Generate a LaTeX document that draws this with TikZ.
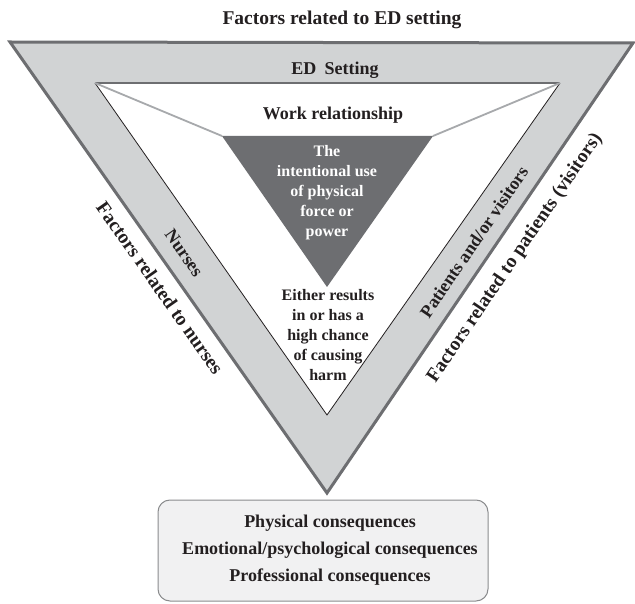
\documentclass[tikz,border=0pt]{standalone}
\usepackage{fontspec}
\setmainfont{Liberation Serif}
\definecolor{band}{HTML}{D1D3D4}
\definecolor{edge}{HTML}{6D6E71}
\definecolor{core}{HTML}{6D6E71}
\definecolor{ink}{HTML}{231F20}
\definecolor{link}{HTML}{A7A9AC}
\definecolor{boxfill}{HTML}{F1F1F2}
\begin{document}
\begin{tikzpicture}[x=1pt,y=-1pt,
  lab/.style={font=\fontsize{18}{20}\selectfont\bfseries, text=ink, inner sep=0pt},
  biglab/.style={font=\fontsize{19.5}{22}\selectfont\bfseries, text=ink, inner sep=0pt},
  smalllab/.style={font=\fontsize{16}{20}\selectfont\bfseries, align=center, inner sep=0pt},
  conbox/.style={draw=edge!80, line width=1pt, fill=boxfill, rounded corners=12pt, minimum width=330pt, minimum height=101pt, inner sep=0pt}
]
\useasboundingbox (0,0) rectangle (635,604);
% geometry
\coordinate (OL) at (10,42);
\coordinate (OR) at (633,43);
\coordinate (OB) at (327,493);
\coordinate (IL) at (95,83);
\coordinate (IR) at (560,83);
\coordinate (IB) at (327,415);
\coordinate (CL) at (222,136);
\coordinate (CR) at (433,136);
\coordinate (CB) at (327,287);
% outer band
\fill[band] (OL) -- (OR) -- (OB) -- cycle;
\draw[edge, line width=3pt, line join=miter] (OL) -- (OR) -- (OB) -- cycle;
% inner white triangle
\fill[white] (IL) -- (IR) -- (IB) -- cycle;
\draw[ink, line width=0.8pt] (IL) -- (IB) -- (IR);
\draw[edge, line width=2pt] (IL) -- (IR);
% links to core
\draw[link, line width=1.8pt] (IL) -- (CL);
\draw[link, line width=1.8pt] (IR) -- (CR);
% core triangle
\fill[core] (CL) -- (CR) -- (CB) -- cycle;
% texts
\node[biglab] (title) at (342,20) {Factors related to ED setting};
\node[lab] (edset) at (335,70) {ED\hspace{0.45em}Setting};
\node[lab] (work) at (333,115) {Work relationship};
\node[smalllab, text=white] (force) at (327,193) {The\\intentional use\\of physical\\force or\\power};
\node[smalllab, text=ink] (harm) at (328,335) {Either results\\in or has a\\high chance\\of causing\\harm};
\node[lab, rotate=-54.9] (nurses) at (184,253) {Nurses};
\node[biglab, rotate=-54.9] (fnurses) at (160,288) {Factors related to nurses};
\node[lab, rotate=55.8] (patients) at (474,242) {Patients and/or visitors};
\node[biglab, rotate=55.8] (fpatients) at (515,258) {Factors related to patients (visitors)};
% consequences box
\node[conbox] (conseq) at (323,550.5) {};
\node[font=\fontsize{18}{27}\selectfont\bfseries, text=ink, align=center, inner sep=0pt] (context) at (330,550) {Physical consequences\\Emotional/psychological consequences\\Professional consequences};
\end{tikzpicture}
\end{document}
